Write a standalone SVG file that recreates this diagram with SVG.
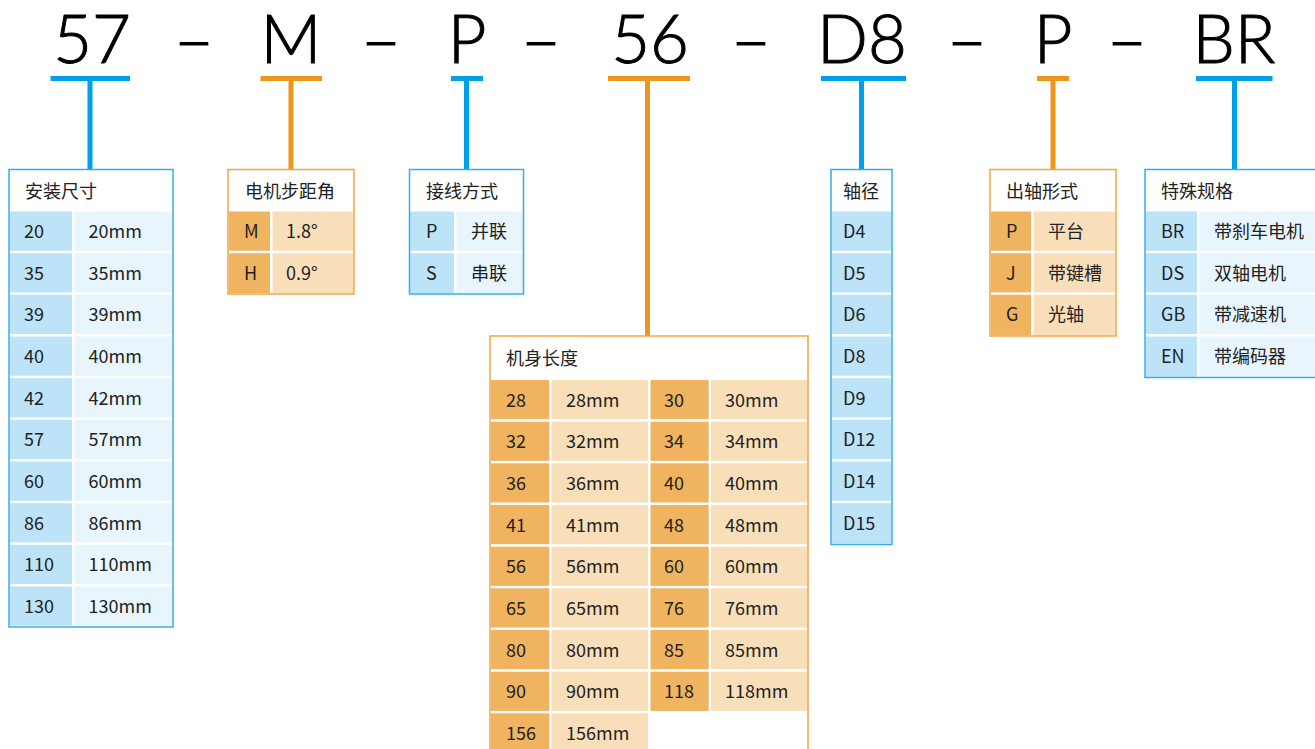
<svg xmlns="http://www.w3.org/2000/svg" width="1315" height="749" viewBox="0 0 1315 749">
<style>
.hd{font-family:Lato,"Liberation Sans",sans-serif;font-weight:300;font-size:67px;fill:#000;stroke:#000;stroke-width:1;text-anchor:middle}
.t{font-family:"Noto Sans CJK SC","Noto Sans",sans-serif;font-size:18px;fill:#222}
.bs{fill:#00a0e9}
.os{fill:#ee961b}
.bb{fill:none;stroke:#37ade6;stroke-width:1.5}
.ob{fill:none;stroke:#f0a641;stroke-width:1.5}
.b1{fill:#bde3f8}
.b2{fill:#e8f5fd}
.o1{fill:#f0b35f}
.o2{fill:#f8dfba}
</style>
<rect width="1315" height="749" fill="#fff"/>
<g id="header">
<text class="hd" x="92" y="63">57</text>
<text class="hd" x="194" y="63" textLength="34" lengthAdjust="spacingAndGlyphs">—</text>
<text class="hd" x="291" y="63">M</text>
<text class="hd" x="381" y="63" textLength="34" lengthAdjust="spacingAndGlyphs">—</text>
<text class="hd" x="467" y="63">P</text>
<text class="hd" x="541" y="63" textLength="34" lengthAdjust="spacingAndGlyphs">—</text>
<text class="hd" x="650" y="63">56</text>
<text class="hd" x="751" y="63" textLength="34" lengthAdjust="spacingAndGlyphs">—</text>
<text class="hd" x="862" y="63">D8</text>
<text class="hd" x="967" y="63" textLength="34" lengthAdjust="spacingAndGlyphs">—</text>
<text class="hd" x="1053" y="63">P</text>
<text class="hd" x="1127" y="63" textLength="34" lengthAdjust="spacingAndGlyphs">—</text>
<text class="hd" x="1234" y="63">BR</text>
</g>
<g id="connectors">
<rect class="bs" x="50.5" y="76" width="79.5" height="5"/><rect class="bs" x="87.5" y="81" width="5" height="89"/>
<rect class="os" x="260.5" y="76" width="61.5" height="5"/><rect class="os" x="288.5" y="81" width="5" height="89"/>
<rect class="bs" x="451" y="76" width="32" height="5"/><rect class="bs" x="464" y="81" width="5" height="89"/>
<rect class="os" x="608" y="76" width="82" height="5"/><rect class="os" x="645" y="81" width="5" height="255"/>
<rect class="bs" x="821" y="76" width="85" height="5"/><rect class="bs" x="859" y="81" width="5" height="89"/>
<rect class="os" x="1037" y="76" width="32" height="5"/><rect class="os" x="1050.5" y="81" width="5" height="89"/>
<rect class="bs" x="1196" y="76" width="76.5" height="5"/><rect class="bs" x="1232" y="81" width="5" height="89"/>
</g>
<g id="t-size">
<rect x="9" y="169.5" width="164" height="457.5" fill="#fff"/>
<text class="t" x="25" y="198">安装尺寸</text>
<g>
<rect class="b1" x="10" y="211.5" width="62" height="39.2"/><rect class="b2" x="74.5" y="211.5" width="98" height="39.2"/>
<rect class="b1" x="10" y="253.2" width="62" height="39.2"/><rect class="b2" x="74.5" y="253.2" width="98" height="39.2"/>
<rect class="b1" x="10" y="294.8" width="62" height="39.2"/><rect class="b2" x="74.5" y="294.8" width="98" height="39.2"/>
<rect class="b1" x="10" y="336.5" width="62" height="39.2"/><rect class="b2" x="74.5" y="336.5" width="98" height="39.2"/>
<rect class="b1" x="10" y="378.2" width="62" height="39.2"/><rect class="b2" x="74.5" y="378.2" width="98" height="39.2"/>
<rect class="b1" x="10" y="419.8" width="62" height="39.2"/><rect class="b2" x="74.5" y="419.8" width="98" height="39.2"/>
<rect class="b1" x="10" y="461.5" width="62" height="39.2"/><rect class="b2" x="74.5" y="461.5" width="98" height="39.2"/>
<rect class="b1" x="10" y="503.2" width="62" height="39.2"/><rect class="b2" x="74.5" y="503.2" width="98" height="39.2"/>
<rect class="b1" x="10" y="544.8" width="62" height="39.2"/><rect class="b2" x="74.5" y="544.8" width="98" height="39.2"/>
<rect class="b1" x="10" y="586.5" width="62" height="39.2"/><rect class="b2" x="74.5" y="586.5" width="98" height="39.2"/>
</g>
<text class="t" x="24" y="238">20</text><text class="t" x="88.5" y="238">20mm</text>
<text class="t" x="24" y="279.7">35</text><text class="t" x="88.5" y="279.7">35mm</text>
<text class="t" x="24" y="321.3">39</text><text class="t" x="88.5" y="321.3">39mm</text>
<text class="t" x="24" y="363">40</text><text class="t" x="88.5" y="363">40mm</text>
<text class="t" x="24" y="404.7">42</text><text class="t" x="88.5" y="404.7">42mm</text>
<text class="t" x="24" y="446.3">57</text><text class="t" x="88.5" y="446.3">57mm</text>
<text class="t" x="24" y="488">60</text><text class="t" x="88.5" y="488">60mm</text>
<text class="t" x="24" y="529.7">86</text><text class="t" x="88.5" y="529.7">86mm</text>
<text class="t" x="24" y="571.3">110</text><text class="t" x="88.5" y="571.3">110mm</text>
<text class="t" x="24" y="613">130</text><text class="t" x="88.5" y="613">130mm</text>
<rect class="bb" x="9" y="169.5" width="164" height="457.5"/>
</g>
<g id="t-step">
<rect x="228" y="169.5" width="126" height="124.5" fill="#fff"/>
<text class="t" x="245" y="198">电机步距角</text>
<rect class="o1" x="229" y="211.5" width="41" height="39.2"/><rect class="o2" x="272.5" y="211.5" width="80.5" height="39.2"/>
<rect class="o1" x="229" y="253.2" width="41" height="39.8"/><rect class="o2" x="272.5" y="253.2" width="80.5" height="39.8"/>
<text class="t" x="244" y="238">M</text><text class="t" x="286" y="238">1.8°</text>
<text class="t" x="244" y="279.7">H</text><text class="t" x="286" y="279.7">0.9°</text>
<rect class="ob" x="228" y="169.5" width="126" height="124.5"/>
</g>
<g id="t-wiring">
<rect x="409.5" y="169.5" width="114" height="124.5" fill="#fff"/>
<text class="t" x="426" y="198">接线方式</text>
<rect class="b1" x="410" y="211.5" width="44" height="39.2"/><rect class="b2" x="456.5" y="211.5" width="66.5" height="39.2"/>
<rect class="b1" x="410" y="253.2" width="44" height="39.8"/><rect class="b2" x="456.5" y="253.2" width="66.5" height="39.8"/>
<text class="t" x="426" y="238">P</text><text class="t" x="471" y="238">并联</text>
<text class="t" x="426" y="279.7">S</text><text class="t" x="471" y="279.7">串联</text>
<rect class="bb" x="409.5" y="169.5" width="114" height="124.5"/>
</g>
<g id="t-length">
<rect x="490" y="336" width="318" height="430" fill="#fff"/>
<text class="t" x="506" y="365">机身长度</text>
<g>
<rect class="o1" x="491" y="380" width="58.3" height="39.2"/><rect class="o2" x="551.5" y="380" width="96.5" height="39.2"/><rect class="o1" x="650.5" y="380" width="58.2" height="39.2"/><rect class="o2" x="711" y="380" width="96.5" height="39.2"/>
<rect class="o1" x="491" y="421.7" width="58.3" height="39.2"/><rect class="o2" x="551.5" y="421.7" width="96.5" height="39.2"/><rect class="o1" x="650.5" y="421.7" width="58.2" height="39.2"/><rect class="o2" x="711" y="421.7" width="96.5" height="39.2"/>
<rect class="o1" x="491" y="463.3" width="58.3" height="39.2"/><rect class="o2" x="551.5" y="463.3" width="96.5" height="39.2"/><rect class="o1" x="650.5" y="463.3" width="58.2" height="39.2"/><rect class="o2" x="711" y="463.3" width="96.5" height="39.2"/>
<rect class="o1" x="491" y="505" width="58.3" height="39.2"/><rect class="o2" x="551.5" y="505" width="96.5" height="39.2"/><rect class="o1" x="650.5" y="505" width="58.2" height="39.2"/><rect class="o2" x="711" y="505" width="96.5" height="39.2"/>
<rect class="o1" x="491" y="546.7" width="58.3" height="39.2"/><rect class="o2" x="551.5" y="546.7" width="96.5" height="39.2"/><rect class="o1" x="650.5" y="546.7" width="58.2" height="39.2"/><rect class="o2" x="711" y="546.7" width="96.5" height="39.2"/>
<rect class="o1" x="491" y="588.3" width="58.3" height="39.2"/><rect class="o2" x="551.5" y="588.3" width="96.5" height="39.2"/><rect class="o1" x="650.5" y="588.3" width="58.2" height="39.2"/><rect class="o2" x="711" y="588.3" width="96.5" height="39.2"/>
<rect class="o1" x="491" y="630" width="58.3" height="39.2"/><rect class="o2" x="551.5" y="630" width="96.5" height="39.2"/><rect class="o1" x="650.5" y="630" width="58.2" height="39.2"/><rect class="o2" x="711" y="630" width="96.5" height="39.2"/>
<rect class="o1" x="491" y="671.7" width="58.3" height="39.2"/><rect class="o2" x="551.5" y="671.7" width="96.5" height="39.2"/><rect class="o1" x="650.5" y="671.7" width="58.2" height="39.2"/><rect class="o2" x="711" y="671.7" width="96.5" height="39.2"/>
<rect class="o1" x="491" y="713.3" width="58.3" height="50"/><rect class="o2" x="551.5" y="713.3" width="96.5" height="50"/>
</g>
<text class="t" x="506" y="406.5">28</text><text class="t" x="566" y="406.5">28mm</text><text class="t" x="664" y="406.5">30</text><text class="t" x="725" y="406.5">30mm</text>
<text class="t" x="506" y="448.2">32</text><text class="t" x="566" y="448.2">32mm</text><text class="t" x="664" y="448.2">34</text><text class="t" x="725" y="448.2">34mm</text>
<text class="t" x="506" y="489.8">36</text><text class="t" x="566" y="489.8">36mm</text><text class="t" x="664" y="489.8">40</text><text class="t" x="725" y="489.8">40mm</text>
<text class="t" x="506" y="531.5">41</text><text class="t" x="566" y="531.5">41mm</text><text class="t" x="664" y="531.5">48</text><text class="t" x="725" y="531.5">48mm</text>
<text class="t" x="506" y="573.2">56</text><text class="t" x="566" y="573.2">56mm</text><text class="t" x="664" y="573.2">60</text><text class="t" x="725" y="573.2">60mm</text>
<text class="t" x="506" y="614.8">65</text><text class="t" x="566" y="614.8">65mm</text><text class="t" x="664" y="614.8">76</text><text class="t" x="725" y="614.8">76mm</text>
<text class="t" x="506" y="656.5">80</text><text class="t" x="566" y="656.5">80mm</text><text class="t" x="664" y="656.5">85</text><text class="t" x="725" y="656.5">85mm</text>
<text class="t" x="506" y="698.2">90</text><text class="t" x="566" y="698.2">90mm</text><text class="t" x="664" y="698.2">118</text><text class="t" x="725" y="698.2">118mm</text>
<text class="t" x="506" y="739.8">156</text><text class="t" x="566" y="739.8">156mm</text>
<rect class="ob" x="490" y="336" width="318" height="430"/>
</g>
<g id="t-shaft">
<rect x="831" y="169.5" width="61" height="375" fill="#fff"/>
<text class="t" x="843" y="198">轴径</text>
<rect class="b1" x="832" y="211.5" width="59" height="39.2"/>
<rect class="b1" x="832" y="253.2" width="59" height="39.2"/>
<rect class="b1" x="832" y="294.8" width="59" height="39.2"/>
<rect class="b1" x="832" y="336.5" width="59" height="39.2"/>
<rect class="b1" x="832" y="378.2" width="59" height="39.2"/>
<rect class="b1" x="832" y="419.8" width="59" height="39.2"/>
<rect class="b1" x="832" y="461.5" width="59" height="39.2"/>
<rect class="b1" x="832" y="503.2" width="59" height="40.3"/>
<text class="t" x="843" y="238">D4</text>
<text class="t" x="843" y="279.7">D5</text>
<text class="t" x="843" y="321.3">D6</text>
<text class="t" x="843" y="363">D8</text>
<text class="t" x="843" y="404.7">D9</text>
<text class="t" x="843" y="446.3">D12</text>
<text class="t" x="843" y="488">D14</text>
<text class="t" x="843" y="529.7">D15</text>
<rect class="bb" x="831" y="169.5" width="61" height="375"/>
</g>
<g id="t-output">
<rect x="990" y="169.5" width="126" height="166.5" fill="#fff"/>
<text class="t" x="1006" y="198">出轴形式</text>
<rect class="o1" x="991" y="211.5" width="40" height="39.2"/><rect class="o2" x="1033.7" y="211.5" width="81.3" height="39.2"/>
<rect class="o1" x="991" y="253.2" width="40" height="39.2"/><rect class="o2" x="1033.7" y="253.2" width="81.3" height="39.2"/>
<rect class="o1" x="991" y="294.8" width="40" height="40.5"/><rect class="o2" x="1033.7" y="294.8" width="81.3" height="40.5"/>
<text class="t" x="1006" y="238">P</text><text class="t" x="1048" y="238">平台</text>
<text class="t" x="1006" y="279.7">J</text><text class="t" x="1048" y="279.7">带键槽</text>
<text class="t" x="1006" y="321.3">G</text><text class="t" x="1048" y="321.3">光轴</text>
<rect class="ob" x="990" y="169.5" width="126" height="166.5"/>
</g>
<g id="t-special">
<rect x="1145" y="169.5" width="180" height="208" fill="#fff"/>
<text class="t" x="1161" y="198">特殊规格</text>
<rect class="b1" x="1146" y="211.5" width="51" height="39.2"/><rect class="b2" x="1199.5" y="211.5" width="120" height="39.2"/>
<rect class="b1" x="1146" y="253.2" width="51" height="39.2"/><rect class="b2" x="1199.5" y="253.2" width="120" height="39.2"/>
<rect class="b1" x="1146" y="294.8" width="51" height="39.2"/><rect class="b2" x="1199.5" y="294.8" width="120" height="39.2"/>
<rect class="b1" x="1146" y="336.5" width="51" height="40.3"/><rect class="b2" x="1199.5" y="336.5" width="120" height="40.3"/>
<text class="t" x="1161" y="238">BR</text><text class="t" x="1214" y="238">带刹车电机</text>
<text class="t" x="1161" y="279.7">DS</text><text class="t" x="1214" y="279.7">双轴电机</text>
<text class="t" x="1161" y="321.3">GB</text><text class="t" x="1214" y="321.3">带减速机</text>
<text class="t" x="1161" y="363">EN</text><text class="t" x="1214" y="363">带编码器</text>
<rect class="bb" x="1145" y="169.5" width="180" height="208"/>
</g>
</svg>
